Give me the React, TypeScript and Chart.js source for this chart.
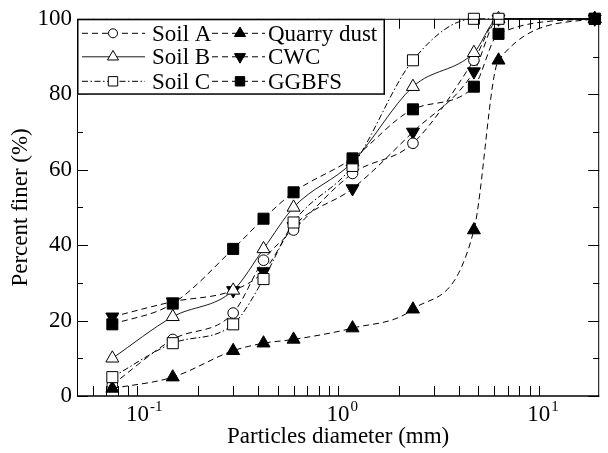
import React, { useEffect, useRef } from 'react';
import { Chart, registerables } from 'chart.js';
import { drawPoint } from 'chart.js/helpers';

Chart.register(...registerables);

// ---- data ----
const sieveSizes = [0.075, 0.15, 0.3, 0.425, 0.6, 1.18, 2.36, 4.75, 6.3, 19];
const soilA = [3, 15, 22, 36, 44, 59, 67, 89, 100, 100];
const soilB = [10, 21, 28, 39, 50, 62, 82, 91, 100, 100];
const soilC = [5, 14, 19, 31, 46, 61, 89, 100, 100, 100];
const quarryDust = [2, 5, 12, 14, 15, 18, 23, 44, 89, 100];
const cwc = [21, 25, 28, 33, 45, 55, 70, 86, 100, 100];
const ggbfs = [19, 24.5, 39, 47, 54, 63, 76, 82, 96, 100];

const seriesNames = ['Soil A', 'Soil B', 'Soil C', 'Quarry dust', 'CWC', 'GGBFS'];
const yTickValues = [0, 20, 40, 60, 80, 100];
const xMajorTicks = [0.1, 1, 10];
const xTickExponents = ['-1', '0', '1'];

const FONT = '"Liberation Serif", "Times New Roman", serif';
const DASH = [6, 4];
const DASHDOT = [6, 2.5, 1.5, 2.5];

type Style = {
  dash: number[];
  pointStyle: string;
  rotation: number;
  radius: number;
  fill: string;
  width: number;
  order: number;
};

const styles: Style[] = [
  { dash: DASH, pointStyle: 'circle', rotation: 0, radius: 5.3, fill: '#fff', width: 1, order: 4 },
  { dash: [], pointStyle: 'triangle', rotation: 0, radius: 7.5, fill: '#fff', width: 0.9, order: 3 },
  { dash: DASHDOT, pointStyle: 'rect', rotation: 0, radius: 7.8, fill: '#fff', width: 1, order: 1 },
  { dash: DASH, pointStyle: 'triangle', rotation: 0, radius: 7.5, fill: '#000', width: 1, order: 2 },
  { dash: DASH, pointStyle: 'triangle', rotation: 180, radius: 7.5, fill: '#000', width: 1, order: 5 },
  { dash: DASH, pointStyle: 'rect', rotation: 0, radius: 7.8, fill: '#000', width: 1, order: 0 },
];

const allSeries = [soilA, soilB, soilC, quarryDust, cwc, ggbfs];

const decorPlugin = {
  id: 'decor',
  afterDraw(chart: any) {
    const { ctx, chartArea } = chart;
    const { left, right, top, bottom } = chartArea;
    const xs = chart.scales.x;
    const ys = chart.scales.y;
    ctx.save();
    ctx.strokeStyle = '#000';
    ctx.fillStyle = '#000';
    ctx.setLineDash([]);

    // frame
    ctx.lineWidth = 1;
    ctx.beginPath();
    ctx.moveTo(left + 0.5, bottom);
    ctx.lineTo(left + 0.5, top + 0.5);
    ctx.lineTo(right - 0.5, top + 0.5);
    ctx.lineTo(right - 0.5, bottom);
    ctx.stroke();
    ctx.lineWidth = 1.6;
    ctx.beginPath();
    ctx.moveTo(left, bottom);
    ctx.lineTo(right, bottom);
    ctx.stroke();

    // x ticks (inward, bottom and top)
    ctx.lineWidth = 1;
    ctx.beginPath();
    for (const dec of [0.01, 0.1, 1, 10]) {
      for (let k = 1; k <= 9; k++) {
        const v = k * dec;
        if (v <= xs.min * 1.001 || v >= xs.max * 0.999) continue;
        const px = Math.round(xs.getPixelForValue(v)) + 0.5;
        ctx.moveTo(px, bottom);
        ctx.lineTo(px, bottom - 10);
        ctx.moveTo(px, top);
        ctx.lineTo(px, top + 10);
      }
    }
    // y ticks (inward, left and right)
    for (let v = 0; v <= 100; v += 10) {
      const py = Math.round(ys.getPixelForValue(v)) + 0.5;
      const len = v % 20 === 0 ? 11 : 6;
      ctx.moveTo(left, py);
      ctx.lineTo(left + len, py);
      ctx.moveTo(right, py);
      ctx.lineTo(right - len, py);
    }
    ctx.stroke();

    // x tick labels with superscripts
    xMajorTicks.forEach((v, i) => {
      const px = xs.getPixelForValue(v);
      ctx.font = `23px ${FONT}`;
      ctx.textAlign = 'center';
      ctx.textBaseline = 'alphabetic';
      ctx.fillText('10', px, bottom + 25);
      const w = ctx.measureText('10').width;
      ctx.font = `15px ${FONT}`;
      ctx.textAlign = 'left';
      ctx.fillText(xTickExponents[i], px + w / 2 + 1, bottom + 15);
    });

    // legend
    const bx = left, by = top, bw = 308, bh = 76;
    ctx.fillStyle = '#fff';
    ctx.fillRect(bx, by, bw, bh);
    ctx.lineWidth = 1.5;
    ctx.strokeStyle = '#000';
    ctx.strokeRect(bx + 0.75, by + 0.75, bw - 1.5, bh - 1.5);

    const rowsY = [top + 14, top + 37.5, top + 62];
    const cols = [
      { x0: left + 5, x1: left + 68, mx: left + 36, tx: left + 75 },
      { x0: left + 135, x1: left + 188, mx: left + 163, tx: left + 191 },
    ];
    for (let i = 0; i < 6; i++) {
      const col = cols[Math.floor(i / 3)];
      const ry = rowsY[i % 3];
      const st = styles[i];
      ctx.strokeStyle = '#000';
      ctx.lineWidth = st.width;
      ctx.setLineDash(st.dash);
      ctx.beginPath();
      ctx.moveTo(col.x0, ry + 0.5);
      ctx.lineTo(col.x1, ry + 0.5);
      ctx.stroke();
      ctx.setLineDash([]);
      ctx.fillStyle = st.fill;
      ctx.lineWidth = 1;
      drawPoint(ctx, { pointStyle: st.pointStyle, rotation: st.rotation, radius: st.radius * 0.85, borderWidth: 1 } as any, col.mx, ry + 0.5);
      ctx.fillStyle = '#000';
      ctx.font = `23px ${FONT}`;
      ctx.textAlign = 'left';
      ctx.textBaseline = 'alphabetic';
      ctx.fillText(seriesNames[i], col.tx, ry + 8);
    }
    ctx.restore();
  },
};

export default function App() {
  const ref = useRef<HTMLCanvasElement | null>(null);
  useEffect(() => {
    document.body.style.margin = '0';
    if (!ref.current) return;
    const datasets = allSeries.map((vals, i) => {
      const st = styles[i];
      return {
        label: seriesNames[i],
        data: sieveSizes.map((d, j) => ({ x: d, y: vals[j] })),
        order: st.order,
        borderColor: '#000',
        borderWidth: st.width,
        borderDash: st.dash,
        pointStyle: st.pointStyle,
        pointRotation: st.rotation,
        pointRadius: st.radius,
        pointBackgroundColor: st.fill,
        pointBorderColor: '#000',
        pointBorderWidth: 1,
        cubicInterpolationMode: 'monotone',
        fill: false,
        clip: false,
      };
    });
    const chart = new Chart(ref.current, {
      type: 'line',
      data: { datasets: datasets as any },
      options: {
        animation: false,
        responsive: false,
        maintainAspectRatio: false,
        events: [],
        layout: { padding: { top: 16, right: 1, left: 0, bottom: 0 } },
        plugins: { legend: { display: false }, tooltip: { enabled: false } },
        scales: {
          x: {
            type: 'logarithmic',
            min: 0.05,
            max: 20,
            grid: { display: false, drawTicks: false },
            border: { display: false },
            ticks: { display: false },
            title: {
              display: true,
              text: 'Particles diameter (mm)',
              color: '#000',
              font: { family: FONT, size: 23 },
              padding: { top: 0, bottom: 2 },
            },
            afterFit: (s: any) => { s.height = 57; },
          },
          y: {
            min: 0,
            max: 100,
            afterBuildTicks: (s: any) => { s.ticks = yTickValues.map((v) => ({ value: v })); },
            ticks: { color: '#000', font: { family: FONT, size: 23 }, padding: 5 },
            grid: { display: false, drawTicks: false },
            border: { display: false },
            title: {
              display: true,
              text: 'Percent finer (%)',
              color: '#000',
              font: { family: FONT, size: 23 },
              padding: { top: 7, bottom: 0 },
            },
            afterFit: (s: any) => { s.width = 77; },
          },
        },
      },
      plugins: [decorPlugin],
    });
    return () => chart.destroy();
  }, []);
  return (
    <div style={{ width: 608, height: 453 }}>
      <canvas ref={ref} width={608} height={453} style={{ display: 'block' }} />
    </div>
  );
}
